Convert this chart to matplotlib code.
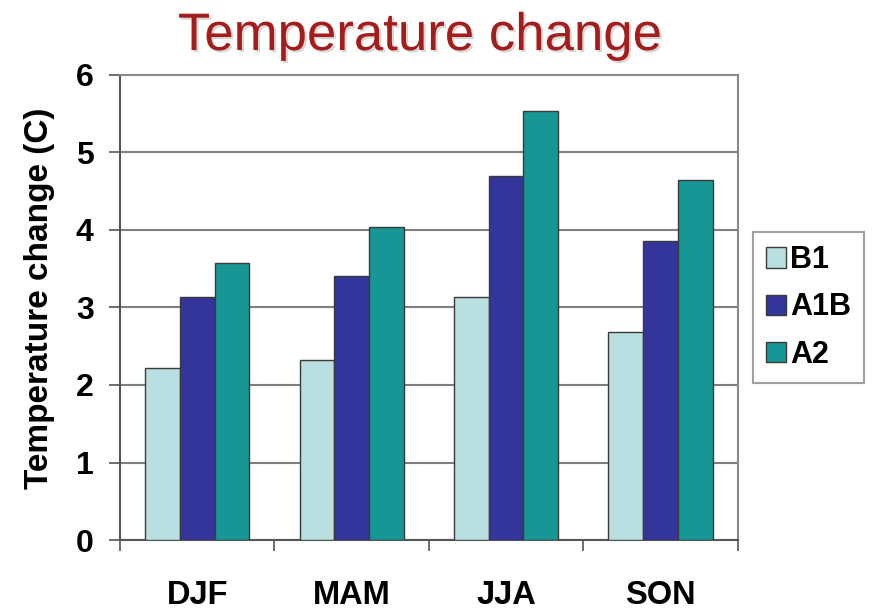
import numpy as np
import matplotlib.pyplot as plt
import matplotlib.patheffects as pe

plt.rcParams['font.family'] = ['Liberation Sans', 'DejaVu Sans']

seasons = ['DJF', 'MAM', 'JJA', 'SON']
scenarios = ['B1', 'A1B', 'A2']
b1 = [2.22, 2.32, 3.13, 2.69]
a1b = [3.13, 3.41, 4.69, 3.86]
a2 = [3.57, 4.04, 5.53, 4.65]
colors = ['#b9dfe0', '#34359a', '#169795']

fig = plt.figure(figsize=(8.73, 6.12), dpi=100)
ax = fig.add_axes([0.1375, 0.1176, 0.7075, 0.76])

x = np.arange(len(seasons))
w = 0.225
for i, (vals, c, name) in enumerate(zip([b1, a1b, a2], colors, scenarios)):
    ax.bar(x + (i - 1) * w, vals, w, color=c, edgecolor='#3a3a3a',
           linewidth=1.0, label=name, zorder=3)

ax.set_xlim(-0.5, 3.5)
ax.set_ylim(0, 6)
ax.set_yticks(range(7))
ax.yaxis.grid(True, color='#7f7f7f', linewidth=1.5, zorder=0)

# season labels centred, tick marks on group boundaries
ax.set_xticks(x)
ax.set_xticklabels(seasons, fontsize=23.5, fontweight='bold')
ax.tick_params(axis='x', which='major', length=0, pad=29)
ax.set_xticks(np.arange(-0.5, 4, 1), minor=True)
ax.tick_params(axis='x', which='minor', length=8, width=1.2, color='#555555')
ax.tick_params(axis='y', length=8, width=1.2, color='#555555', labelsize=23, pad=11)
for t in ax.get_yticklabels():
    t.set_fontweight('bold')

for s in ['left', 'bottom']:
    ax.spines[s].set_color('#555555')
    ax.spines[s].set_linewidth(1.5)
for s in ['top', 'right']:
    ax.spines[s].set_color('#8a8a8a')
    ax.spines[s].set_linewidth(1.5)

ax.set_ylabel('Temperature change (C)', fontsize=24, fontweight='bold')
ax.yaxis.set_label_coords(-0.105, 0.52)

fig.text(0.481, 1 - 50 / 612, 'Temperature change', ha='center', va='baseline',
         fontsize=38, color='#a31d1d',
         path_effects=[pe.withSimplePatchShadow(offset=(1.5, -1.5), shadow_rgbFace='#999999', alpha=0.4)])

leg = ax.legend(loc='center left', bbox_to_anchor=(1.0, 0.5), borderaxespad=0.5,
                prop={'weight': 'bold', 'size': 22}, frameon=True, fancybox=False,
                edgecolor='#888888', handlelength=0.65, handleheight=0.65,
                handletextpad=0.15, labelspacing=0.57, borderpad=0.42)
leg.get_frame().set_linewidth(1.5)

fig.savefig('out.png', dpi=100)
